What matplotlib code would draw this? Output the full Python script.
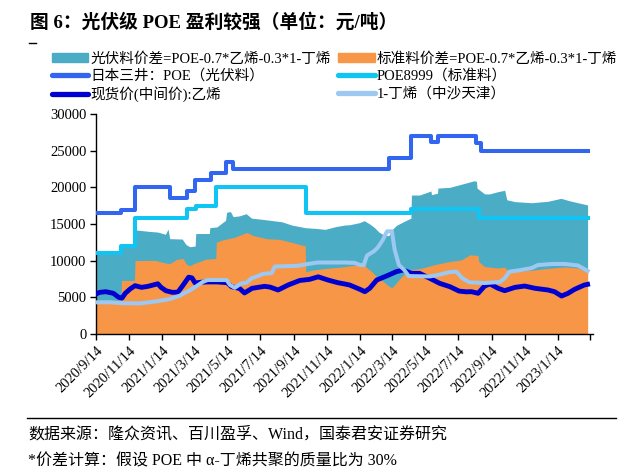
import matplotlib
matplotlib.use('Agg')
import matplotlib.pyplot as plt
from matplotlib.lines import Line2D
from matplotlib.patches import Patch
import pandas as pd

FAM = ['Liberation Serif', 'Noto Sans CJK SC', 'DejaVu Sans']
plt.rcParams['font.family'] = FAM

# ---------------- data ----------------
series_names = ['光伏料价差=POE-0.7*乙烯-0.3*1-丁烯', '标准料价差=POE-0.7*乙烯-0.3*1-丁烯',
                '日本三井：POE（光伏料）', 'POE8999（标准料）',
                '现货价(中间价):乙烯', '1-丁烯（中沙天津）']

# 日本三井 POE (step)
mitsui_dates = ['2020-09-14', '2020-10-31', '2020-11-25', '2021-01-28', '2021-02-28', '2021-03-15',
                '2021-04-14', '2021-05-12', '2021-05-25', '2022-03-09', '2022-04-19', '2022-05-26',
                '2022-06-07', '2022-08-17', '2022-08-25', '2023-03-10']
mitsui_vals = [16500, 16900, 20000, 18500, 19500, 21000, 22000, 23500, 22500, 24000, 27000, 26200,
               27000, 26000, 25000, 25000]

# POE8999 (step)
poe8999_dates = ['2020-09-14', '2020-10-31', '2020-11-25', '2021-02-28', '2021-03-17', '2021-04-24',
                 '2021-10-06', '2022-04-19', '2022-08-21', '2023-03-10']
poe8999_vals = [11000, 12000, 15800, 17000, 17500, 20000, 16500, 17000, 15800, 15800]

# 乙烯
eth_dates = ['2020-09-14', '2020-09-21', '2020-10-02', '2020-10-16', '2020-10-26', '2020-11-01',
             '2020-11-07', '2020-11-16', '2020-11-25', '2020-12-07', '2020-12-19', '2020-12-31',
             '2021-01-06', '2021-01-12', '2021-01-21', '2021-02-02', '2021-02-12', '2021-02-21',
             '2021-03-04', '2021-03-10', '2021-03-16', '2021-03-26', '2021-04-07', '2021-04-25',
             '2021-05-14', '2021-05-22', '2021-06-06', '2021-06-15', '2021-06-29', '2021-07-22',
             '2021-08-01', '2021-08-16', '2021-09-04', '2021-09-25', '2021-10-13', '2021-10-29',
             '2021-11-16', '2021-12-04', '2021-12-17', '2021-12-26', '2022-01-14', '2022-01-23',
             '2022-02-01', '2022-02-14', '2022-03-04', '2022-03-22', '2022-04-04', '2022-04-19',
             '2022-05-04', '2022-05-23', '2022-06-10', '2022-06-29', '2022-07-16', '2022-07-29',
             '2022-08-08', '2022-08-20', '2022-09-01', '2022-09-11', '2022-09-26', '2022-10-08',
             '2022-10-27', '2022-11-14', '2022-12-03', '2022-12-27', '2023-01-08', '2023-01-21',
             '2023-02-02', '2023-02-14', '2023-03-04', '2023-03-10']
eth_vals = [5450, 5680, 5770, 5550, 5000, 4900,
            5550, 6140, 6590, 6360, 6500, 6730,
            6850, 6360, 5900, 5680, 5700, 6590,
            7750, 7650, 6950, 7050, 7100, 7100,
            7000, 6450, 6200, 5600, 6230, 6500,
            6400, 6000, 6700, 7300, 7450, 7800,
            7360, 7000, 6820, 6680, 6090, 5770,
            6230, 7360, 7910, 8500, 8730, 8270,
            8270, 7590, 6910, 6450, 5850, 5750,
            5770, 5550, 6540, 6820, 6230, 5910,
            6360, 6540, 6230, 6000, 5770, 5180,
            5550, 6090, 6680, 6770]

# 1-丁烯
but_dates = ['2020-09-14', '2020-10-09', '2020-11-03', '2020-12-04', '2021-01-04', '2021-01-28',
             '2021-02-16', '2021-02-27', '2021-03-06', '2021-03-18', '2021-03-30', '2021-04-08',
             '2021-05-13', '2021-05-19', '2021-05-28', '2021-06-09', '2021-06-19', '2021-06-28',
             '2021-07-10', '2021-07-19', '2021-08-04', '2021-08-10', '2021-09-22', '2021-10-10',
             '2021-10-28', '2021-12-17', '2022-01-04', '2022-01-14', '2022-01-21', '2022-01-27',
             '2022-02-09', '2022-02-16', '2022-02-25', '2022-03-05', '2022-03-14', '2022-03-19',
             '2022-03-27', '2022-04-05', '2022-04-14', '2022-05-23', '2022-06-10', '2022-06-29',
             '2022-07-11', '2022-07-22', '2022-08-04', '2022-09-01', '2022-09-29', '2022-10-08',
             '2022-10-17', '2022-11-05', '2022-11-27', '2022-12-08', '2023-01-04', '2023-01-27',
             '2023-02-20', '2023-03-03', '2023-03-10']
but_vals = [4320, 4320, 4200, 4180, 4450, 4770,
            5230, 5700, 5950, 6500, 7100, 7360,
            7360, 6700, 6300, 6900, 7000, 7600,
            7910, 8200, 8300, 9200, 9300, 9550,
            9750, 9750, 9700, 9400, 9400, 10700,
            11300, 11800, 12800, 14000, 14000, 11500,
            9400, 8800, 7900, 7850, 8100, 8450,
            8500, 7600, 7050, 6950, 7100, 7600,
            8500, 8700, 9000, 9400, 9550, 9550,
            9350, 8900, 8600]

# 光伏料价差 (area)
pv_dates = ['2020-09-14', '2020-10-30', '2020-10-31', '2020-11-24', '2020-11-25', '2020-12-20',
            '2021-01-06', '2021-01-20', '2021-01-25', '2021-01-28', '2021-02-20', '2021-02-27',
            '2021-03-06', '2021-03-16', '2021-03-17', '2021-04-11', '2021-04-12', '2021-04-25',
            '2021-05-11', '2021-05-13', '2021-05-20', '2021-05-25', '2021-06-05', '2021-06-18',
            '2021-06-28', '2021-07-22', '2021-08-23', '2021-09-10', '2021-10-05', '2021-10-24',
            '2021-11-11', '2021-11-30', '2021-12-17', '2021-12-26', '2022-01-13', '2022-01-22',
            '2022-02-01', '2022-02-10', '2022-02-18', '2022-02-27', '2022-03-08', '2022-03-14',
            '2022-03-22', '2022-04-04', '2022-04-18', '2022-04-19', '2022-05-04', '2022-05-25',
            '2022-05-26', '2022-06-06', '2022-06-07', '2022-06-29', '2022-07-14', '2022-07-29',
            '2022-08-13', '2022-08-17', '2022-08-18', '2022-08-25', '2022-09-01', '2022-09-10',
            '2022-09-25', '2022-10-08', '2022-10-12', '2022-10-27', '2022-11-27', '2022-12-27',
            '2023-01-20', '2023-02-03', '2023-02-20', '2023-03-10']
pv_vals = [10900, 10900, 11900, 11900, 14200, 14000,
           13900, 13600, 14300, 13000, 12950, 12200,
           11900, 12000, 13700, 13700, 14500, 14600,
           15500, 16600, 16700, 16000, 16100, 16400,
           15800, 15600, 15300, 14860, 14500, 14400,
           14270, 14640, 14860, 14900, 15180, 15450,
           15000, 14500, 13900, 13500, 13400, 14200,
           14800, 15300, 15800, 18950, 18950, 19500,
           19000, 19200, 19900, 20000, 20300, 20600,
           20900, 20800, 19900, 19500, 19100, 19100,
           19400, 19600, 18300, 18050, 17900, 18100,
           18500, 18200, 17900, 17600]

# 标准料价差 (area)
std_dates = ['2020-09-14', '2020-10-30', '2020-10-31', '2020-11-24', '2020-11-25', '2020-12-31',
             '2021-01-23', '2021-01-28', '2021-02-10', '2021-02-22', '2021-02-27', '2021-03-05',
             '2021-03-17', '2021-04-05', '2021-04-23', '2021-04-24', '2021-05-04', '2021-05-28',
             '2021-06-19', '2021-07-02', '2021-07-26', '2021-08-19', '2021-09-10', '2021-10-05',
             '2021-10-06', '2021-10-20', '2021-11-13', '2021-12-17', '2021-12-26', '2022-01-22',
             '2022-01-27', '2022-02-05', '2022-02-14', '2022-02-24', '2022-03-07', '2022-03-14',
             '2022-03-20', '2022-03-28', '2022-04-05', '2022-04-18', '2022-04-19', '2022-05-04',
             '2022-06-03', '2022-06-30', '2022-07-20', '2022-08-05', '2022-08-20', '2022-08-21',
             '2022-09-01', '2022-09-25', '2022-10-08', '2022-10-17', '2022-10-27', '2022-11-27',
             '2022-12-27', '2023-01-27', '2023-02-20', '2023-03-10']
std_vals = [4600, 4600, 7300, 7300, 10000, 10050,
            9640, 9600, 10180, 10300, 9600, 9300,
            9700, 10200, 10300, 12500, 12800, 13200,
            13850, 13400, 13000, 12900, 12500, 12000,
            8500, 8730, 8950, 9180, 9300, 9450,
            9000, 8500, 7800, 7300, 6600, 6300,
            6800, 7500, 8100, 8300, 8800, 8900,
            9500, 9900, 10100, 10800, 10700, 9900,
            9200, 9000, 9100, 8400, 8500, 8700,
            8950, 9150, 9000, 8400]

tick_dates = ['2020-09-14', '2020-11-14', '2021-01-14', '2021-03-14', '2021-05-14', '2021-07-14',
              '2021-09-14', '2021-11-14', '2022-01-14', '2022-03-14', '2022-05-14', '2022-07-14',
              '2022-09-14', '2022-11-14', '2023-01-14', '2023-03-14']
tick_labels = ['2020/9/14', '2020/11/14', '2021/1/14', '2021/3/14', '2021/5/14', '2021/7/14',
               '2021/9/14', '2021/11/14', '2022/1/14', '2022/3/14', '2022/5/14', '2022/7/14',
               '2022/9/14', '2022/11/14', '2023/1/14', '']
y_ticks = [0, 5000, 10000, 15000, 20000, 25000, 30000]

title = '图 6：光伏级 POE 盈利较强（单位：元/吨）'
source1 = '数据来源：隆众资讯、百川盈孚、Wind，国泰君安证券研究'
source2 = '*价差计算：假设 POE 中 α-丁烯共聚的质量比为 30%'

# ---------------- styles ----------------
C_PV = '#4BACC6'
C_STD = '#F79646'
C_MIT = '#3366F0'
C_P8999 = '#10C4F4'
C_ETH = '#0000D0'
C_BUT = '#9DC8F2'

fig = plt.figure(figsize=(6.4, 4.75), dpi=100)
W, H = 640, 475
ax = fig.add_axes([96 / W, 1 - 334 / H, (593 - 96) / W, 220 / H])

td = lambda d: pd.to_datetime(d)

ax.fill_between(td(pv_dates), 0, pv_vals, color=C_PV, linewidth=0, zorder=1)
ax.fill_between(td(std_dates), 0, std_vals, color=C_STD, linewidth=0, zorder=2)
ax.plot(td(mitsui_dates), mitsui_vals, drawstyle='steps-post', color=C_MIT, lw=2.9, zorder=3)
ax.plot(td(poe8999_dates), poe8999_vals, drawstyle='steps-post', color=C_P8999, lw=2.9, zorder=3)
ax.plot(td(eth_dates), eth_vals, color=C_ETH, lw=3.5, zorder=4)
ax.plot(td(but_dates), but_vals, color=C_BUT, lw=2.9, zorder=5)

ax.set_xlim(td('2020-09-14'), td('2023-03-20'))
ax.set_ylim(0, 30000)
ax.set_xticks(td(tick_dates))
ax.set_xticklabels(tick_labels, rotation=45, ha='right', va='top', rotation_mode='anchor',
                   fontsize=10.5, family=FAM)
ax.set_yticks(y_ticks)
ax.set_yticklabels([str(v) for v in y_ticks], fontsize=10.5, family=FAM)
ax.tick_params(axis='both', direction='out', length=4, width=1, colors='black', pad=3)
for s in ['top', 'right']:
    ax.spines[s].set_visible(False)
for s in ['left', 'bottom']:
    ax.spines[s].set_color('black')
    ax.spines[s].set_linewidth(1)

# legend
handles = [Patch(color=C_PV), Line2D([], [], color=C_MIT, lw=3.8, solid_capstyle='round'),
           Line2D([], [], color=C_ETH, lw=3.8, solid_capstyle='round'),
           Patch(color=C_STD), Line2D([], [], color=C_P8999, lw=3.8, solid_capstyle='round'),
           Line2D([], [], color=C_BUT, lw=3.8, solid_capstyle='round')]
labels = [series_names[0], series_names[2], series_names[4],
          series_names[1], series_names[3], series_names[5]]
leg = fig.legend(handles, labels, ncol=2, loc='upper left', bbox_to_anchor=(52 / W, 1 - 52 / H),
                 frameon=False, prop={'family': FAM, 'size': 10.5}, handlelength=2.5,
                 handleheight=0.5, handletextpad=0.15, columnspacing=0.5, labelspacing=0.24,
                 borderpad=0, borderaxespad=0)

# title and footer
fig.text(30 / W, 1 - 22 / H, title, fontsize=13.5, fontweight='bold', family=FAM,
         ha='left', va='center')
fig.add_artist(Line2D([29 / W, 36 / W], [1 - 43 / H, 1 - 43 / H], color='black', lw=1))
fig.add_artist(Line2D([27 / W, 616 / W], [1 - 418 / H, 1 - 418 / H], color='black', lw=1))
fig.text(28 / W, 1 - 435 / H, source1, fontsize=11.5, family=FAM, ha='left', va='center')
fig.text(28 / W, 1 - 461 / H, source2, fontsize=11.5, family=FAM, ha='left', va='center')

fig.savefig('out.png', dpi=100)
